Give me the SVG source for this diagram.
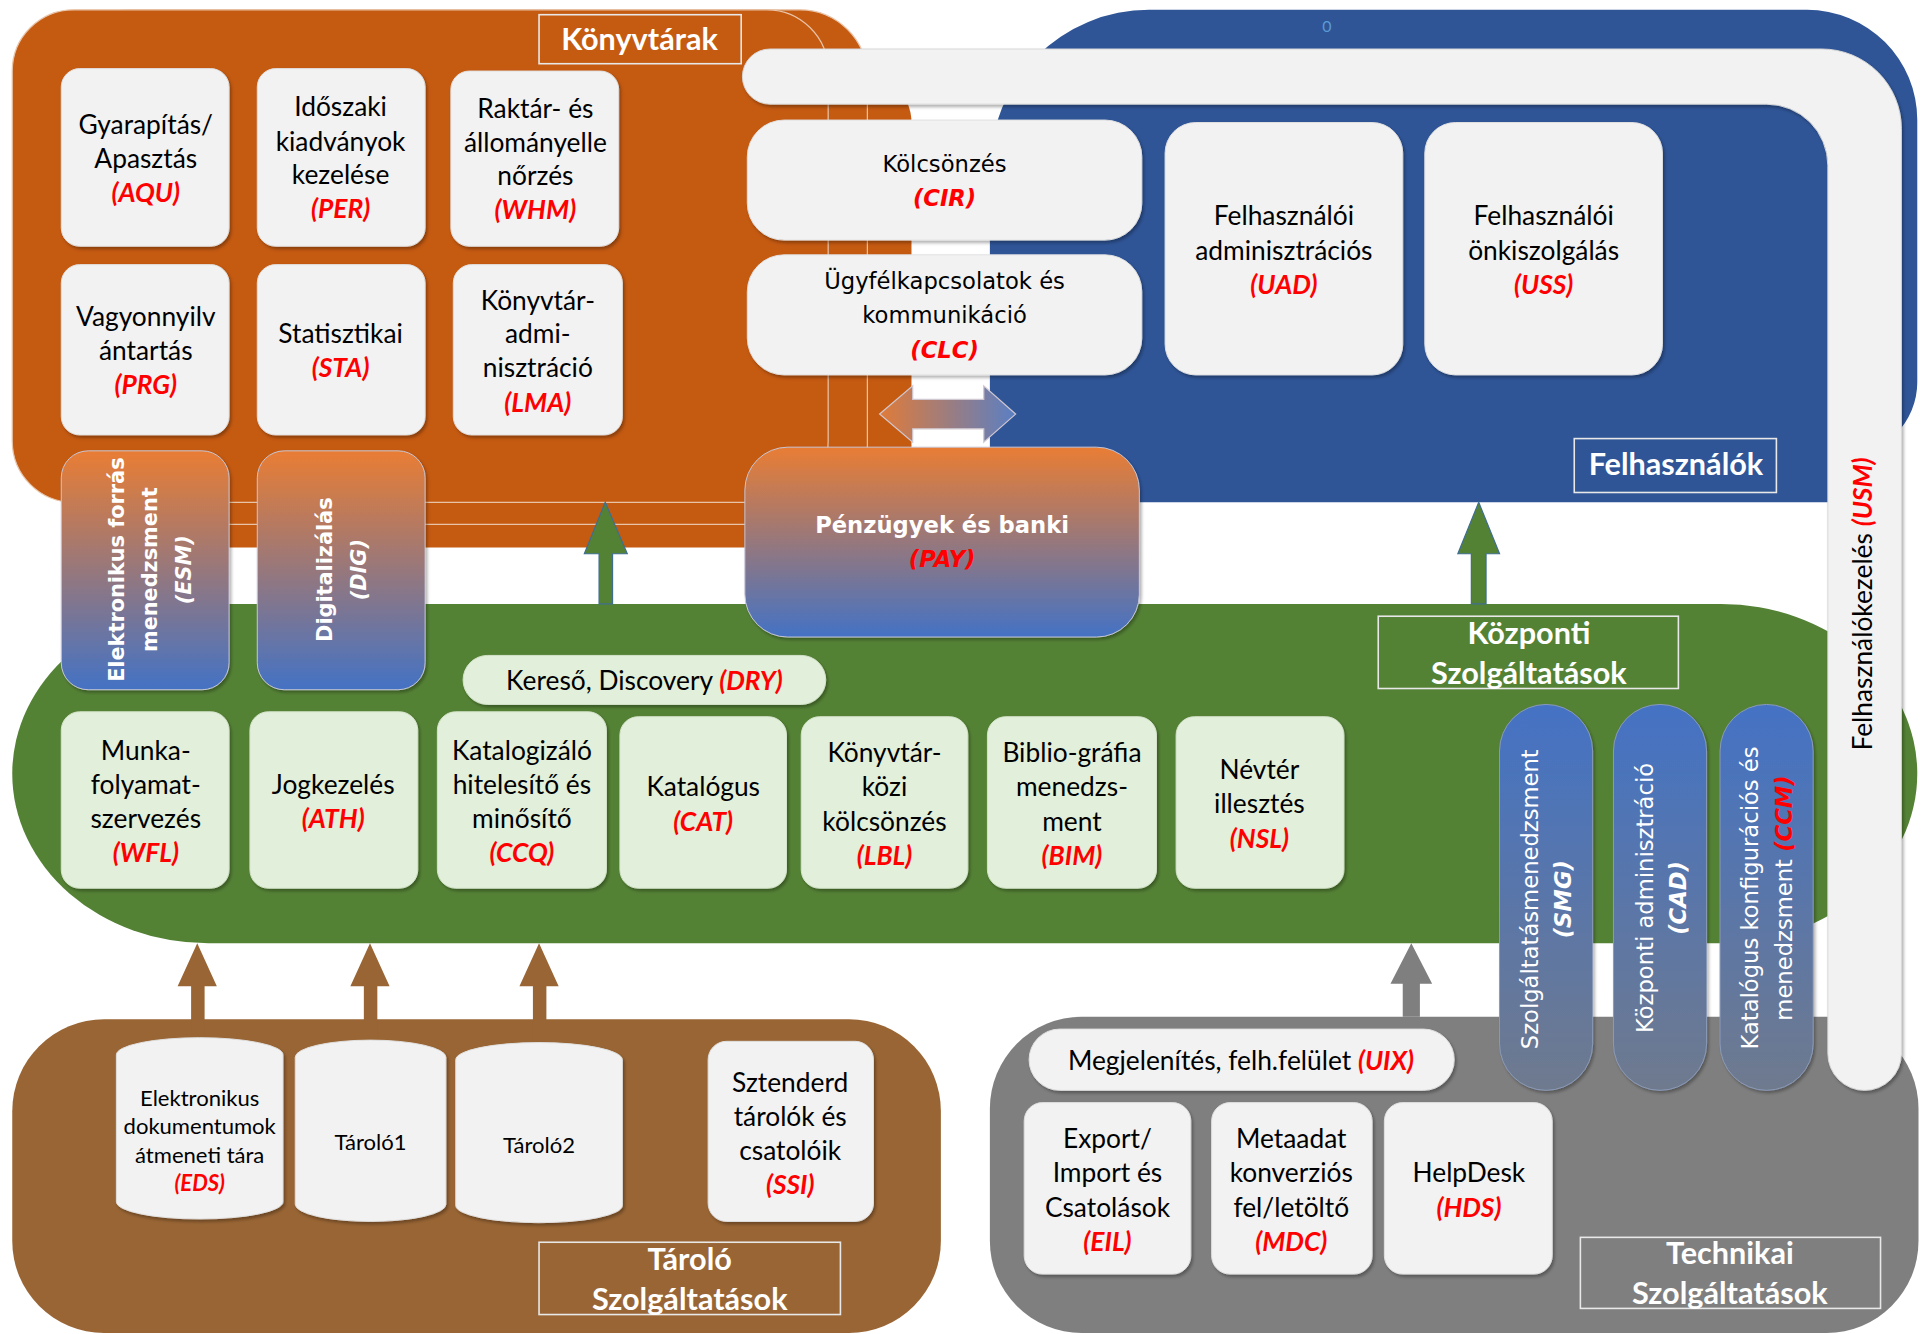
<svg xmlns="http://www.w3.org/2000/svg" width="1921" height="1334" viewBox="0 0 1921 1334">
<defs>
<linearGradient id="gOB" x1="0" y1="0" x2="0" y2="1"><stop offset="0" stop-color="#E97D34"/><stop offset="1" stop-color="#4472C4"/></linearGradient>
<linearGradient id="gBG" x1="0" y1="0" x2="0" y2="1"><stop offset="0" stop-color="#4472C4"/><stop offset="1" stop-color="#6F7A8E"/></linearGradient>
<linearGradient id="gArr" x1="0" y1="0" x2="1" y2="0"><stop offset="0" stop-color="#E07B39"/><stop offset="1" stop-color="#5A7FC4"/></linearGradient>
<filter id="sh" x="-10%" y="-10%" width="130%" height="130%"><feDropShadow dx="1.5" dy="2" stdDeviation="1.5" flood-color="#000" flood-opacity="0.3"/></filter>
</defs>
<style>
.lb{fill:#F2F2F2;stroke:#e0e0e0;stroke-width:0.8;filter:url(#sh)}
.gb{fill:#E2EFDA;stroke:#d5e3cc;stroke-width:0.8;filter:url(#sh)}
.t{font-family:Lato,"Liberation Sans",sans-serif;font-size:21.5px;fill:#000;text-anchor:middle}
.s{font-size:18px}
.d{font-family:"DejaVu Sans","Liberation Sans",sans-serif;font-size:18.5px;fill:#000;text-anchor:middle}
.r{fill:#FF0000;font-weight:bold;font-style:italic}
.w{fill:#fff;font-weight:bold}
.L{font-family:Lato,"Liberation Sans",sans-serif;font-size:25px;font-weight:bold;fill:#fff;text-anchor:middle}
.lf{fill:none;stroke:#e8e8e8;stroke-width:1.3}
.vw{font-family:"DejaVu Sans","Liberation Sans",sans-serif;font-size:18.5px;fill:#fff;text-anchor:middle}
.vb{font-family:"DejaVu Sans","Liberation Sans",sans-serif;font-size:17px;font-weight:bold;fill:#fff;text-anchor:middle}
.pill{fill:url(#gBG);stroke:#8a9bb8;stroke-width:0.8;filter:url(#sh)}
.ob{fill:url(#gOB);stroke:#c8c8d8;stroke-width:0.8;filter:url(#sh)}
</style>
<rect width="1921" height="1334" fill="#fff"/>
<g transform="scale(1.2251)">

<g id="region-tarolo">
<rect x="10" y="832" width="758" height="256" rx="75" fill="#996534"/>
</g>
<g id="region-technikai">
<rect x="808" y="830" width="758" height="258" rx="75" fill="#7F7F7F"/>
</g>
<g id="region-kozponti">
<path d="M170,493 L1405,493 A160,138.5 0 0 1 1405,770 L170,770 A160,138.5 0 0 1 170,493 Z" fill="#548235"/>
</g>
<g id="region-konyvtarak">
<rect x="50" y="60" width="694" height="387" rx="40" fill="#C55A11"/>
<rect x="50" y="8" width="658" height="420" rx="55" fill="#C55A11" stroke="#E8C4A8" stroke-width="1"/>
<rect x="10" y="8" width="666" height="402" rx="50" fill="#C55A11" stroke="#E8C4A8" stroke-width="1"/>
</g>
<g id="region-felhasznalok">
<path d="M808,410 L808,138 A130,130 0 0 1 938,8 L1475,8 A90,90 0 0 1 1565,98 L1565,312 A60,60 0 0 1 1505,372 L1495,372 L1495,410 Z" fill="#2F5597"/>
<text x="1083" y="26" font-family="Lato, 'Liberation Sans', sans-serif" font-size="13" fill="#5B9BD5" text-anchor="middle">0</text>
</g>

<g id="USM">
<path d="M628.5,40 L1487,40 A65,65 0 0 1 1552,105 L1552,860 A30,30 0 0 1 1492,860 L1492,135 A50,50 0 0 0 1442,85 L628.5,85 A22.5,22.5 0 0 1 628.5,40 Z" fill="#F2F2F2" stroke="#d8d8d8" stroke-width="0.8" filter="url(#sh)"/>
<text class="t" font-size="20.5" transform="translate(1528,493) rotate(-90)">Felhasználókezelés <tspan class="r">(USM)</tspan></text>
</g>

<g id="connectors">
<path d="M494,410 L512,452 L500,452 L500,493 L489,493 L489,452 L477,452 Z" fill="#548235" stroke="#3F6E8F" stroke-width="1"/>
<path d="M1207,410 L1224,452 L1213,452 L1213,493 L1201,493 L1201,452 L1190,452 Z" fill="#548235" stroke="#3F6E8F" stroke-width="1"/>
<path d="M1152,770 L1169,803 L1159,803 L1159,830 L1145,830 L1145,803 L1135,803 Z" fill="#7F7F7F"/>
<path d="M718,338 L745,315 L745,326 L803,326 L803,315 L829,338 L803,361 L803,350 L745,350 L745,361 Z" fill="url(#gArr)" stroke="#d0c8d0" stroke-width="1"/>
<path d="M161,770 L177,805 L167,805 L167,862 L156,862 L156,805 L145,805 Z" fill="#996534"/>
<path d="M302,770 L318,805 L308,805 L308,862 L297,862 L297,805 L286,805 Z" fill="#996534"/>
<path d="M440,770 L456,805 L446,805 L446,862 L435,862 L435,805 L424,805 Z" fill="#996534"/>
</g>

<g id="Konyvtarak-label">
<rect class="lf" x="440" y="12" width="165" height="40"/>
<text class="L" x="522" y="41">Könyvtárak</text>
</g>
<g id="AQU"><rect class="lb" x="50" y="56" width="137" height="145" rx="15"/>
<text class="t"><tspan x="119" y="109">Gyarapítás/</tspan><tspan x="119" y="137">Apasztás</tspan><tspan x="119" y="165" class="r">(AQU)</tspan></text></g>
<g id="PER"><rect class="lb" x="210" y="56" width="137" height="145" rx="15"/>
<text class="t"><tspan x="278" y="95">Időszaki</tspan><tspan x="278" y="123">kiadványok</tspan><tspan x="278" y="150">kezelése</tspan><tspan x="278" y="178" class="r">(PER)</tspan></text></g>
<g id="WHM"><rect class="lb" x="368" y="58" width="137" height="143" rx="15"/>
<text class="t"><tspan x="437" y="96">Raktár- és</tspan><tspan x="437" y="124">állományelle</tspan><tspan x="437" y="151">nőrzés</tspan><tspan x="437" y="179" class="r">(WHM)</tspan></text></g>
<g id="PRG"><rect class="lb" x="50" y="216" width="137" height="139" rx="15"/>
<text class="t"><tspan x="119" y="266">Vagyonnyilv</tspan><tspan x="119" y="294">ántartás</tspan><tspan x="119" y="322" class="r">(PRG)</tspan></text></g>
<g id="STA"><rect class="lb" x="210" y="216" width="137" height="139" rx="15"/>
<text class="t"><tspan x="278" y="280">Statisztikai</tspan><tspan x="278" y="308" class="r">(STA)</tspan></text></g>
<g id="LMA"><rect class="lb" x="370" y="216" width="138" height="139" rx="15"/>
<text class="t"><tspan x="439" y="253">Könyvtár-</tspan><tspan x="439" y="280">admi-</tspan><tspan x="439" y="308">nisztráció</tspan><tspan x="439" y="336" class="r">(LMA)</tspan></text></g>

<g id="ESM"><rect class="ob" x="50" y="368" width="137" height="195" rx="22"/>
<text class="vb" transform="translate(101,465) rotate(-90)">Elektronikus forrás</text>
<text class="vb" transform="translate(128,465) rotate(-90)">menedzsment</text>
<text class="vb r" transform="translate(156,465) rotate(-90)">(ESM)</text></g>
<g id="DIG"><rect class="ob" x="210" y="368" width="137" height="195" rx="22"/>
<text class="vb" transform="translate(271,465) rotate(-90)">Digitalizálás</text>
<text class="vb r" transform="translate(299,465) rotate(-90)">(DIG)</text></g>

<g id="CIR"><rect class="lb" x="610" y="98" width="322" height="98" rx="30"/>
<text class="d"><tspan x="771" y="140">Kölcsönzés</tspan><tspan x="771" y="168" class="r">(CIR)</tspan></text></g>
<g id="CLC"><rect class="lb" x="610" y="208" width="322" height="98" rx="30"/>
<text class="d"><tspan x="771" y="236">Ügyfélkapcsolatok és</tspan><tspan x="771" y="264">kommunikáció</tspan><tspan x="771" y="292" class="r">(CLC)</tspan></text></g>
<g id="UAD"><rect class="lb" x="951" y="100" width="194" height="206" rx="25"/>
<text class="t"><tspan x="1048" y="184">Felhasználói</tspan><tspan x="1048" y="212">adminisztrációs</tspan><tspan x="1048" y="240" class="r">(UAD)</tspan></text></g>
<g id="USS"><rect class="lb" x="1163" y="100" width="194" height="206" rx="25"/>
<text class="t"><tspan x="1260" y="184">Felhasználói</tspan><tspan x="1260" y="212">önkiszolgálás</tspan><tspan x="1260" y="240" class="r">(USS)</tspan></text></g>
<g id="Felhasznalok-label">
<rect class="lf" x="1285" y="358" width="165" height="44"/>
<text class="L" x="1368" y="388">Felhasználók</text>
</g>

<g id="PAY"><rect class="ob" x="608" y="365" width="322" height="155" rx="35"/>
<text class="d w" font-size="15.5"><tspan x="769" y="435">Pénzügyek és banki</tspan><tspan x="769" y="463" class="r">(PAY)</tspan></text></g>

<g id="Kozponti-label">
<rect class="lf" x="1125" y="503" width="245" height="59"/>
<text class="L"><tspan x="1248" y="526">Központi</tspan><tspan x="1248" y="558">Szolgáltatások</tspan></text>
</g>
<g id="DRY"><rect class="gb" x="378" y="535" width="296" height="40" rx="20"/>
<text class="t" x="526" y="563">Kereső, Discovery <tspan class="r">(DRY)</tspan></text></g>
<g id="WFL"><rect class="gb" x="50" y="581" width="137" height="144" rx="15"/>
<text class="t"><tspan x="119" y="620">Munka-</tspan><tspan x="119" y="648">folyamat-</tspan><tspan x="119" y="676">szervezés</tspan><tspan x="119" y="704" class="r">(WFL)</tspan></text></g>
<g id="ATH"><rect class="gb" x="204" y="581" width="137" height="144" rx="15"/>
<text class="t"><tspan x="272" y="648">Jogkezelés</tspan><tspan x="272" y="676" class="r">(ATH)</tspan></text></g>
<g id="CCQ"><rect class="gb" x="357" y="581" width="138" height="144" rx="15"/>
<text class="t"><tspan x="426" y="620">Katalogizáló</tspan><tspan x="426" y="648">hitelesítő és</tspan><tspan x="426" y="676">minősítő</tspan><tspan x="426" y="704" class="r">(CCQ)</tspan></text></g>
<g id="CAT"><rect class="gb" x="506" y="585" width="136" height="140" rx="15"/>
<text class="t"><tspan x="574" y="650">Katalógus</tspan><tspan x="574" y="678" class="r">(CAT)</tspan></text></g>
<g id="LBL"><rect class="gb" x="654" y="585" width="136" height="140" rx="15"/>
<text class="t"><tspan x="722" y="622">Könyvtár-</tspan><tspan x="722" y="650">közi</tspan><tspan x="722" y="678">kölcsönzés</tspan><tspan x="722" y="706" class="r">(LBL)</tspan></text></g>
<g id="BIM"><rect class="gb" x="806" y="585" width="138" height="140" rx="15"/>
<text class="t"><tspan x="875" y="622">Biblio-gráfia</tspan><tspan x="875" y="650">menedzs-</tspan><tspan x="875" y="678">ment</tspan><tspan x="875" y="706" class="r">(BIM)</tspan></text></g>
<g id="NSL"><rect class="gb" x="960" y="585" width="137" height="140" rx="15"/>
<text class="t"><tspan x="1028" y="636">Névtér</tspan><tspan x="1028" y="664">illesztés</tspan><tspan x="1028" y="692" class="r">(NSL)</tspan></text></g>

<g id="SMG"><rect class="pill" x="1224" y="575" width="76" height="315" rx="38"/>
<text class="vw" transform="translate(1255,734) rotate(-90)">Szolgáltatásmenedzsment</text>
<text class="vw r" transform="translate(1282,734) rotate(-90)">(SMG)</text></g>
<g id="CAD"><rect class="pill" x="1317" y="575" width="76" height="315" rx="38"/>
<text class="vw" transform="translate(1349,733) rotate(-90)">Központi adminisztráció</text>
<text class="vw r" transform="translate(1376,733) rotate(-90)">(CAD)</text></g>
<g id="CCM"><rect class="pill" x="1404" y="575" width="76" height="315" rx="38"/>
<text class="vw" transform="translate(1435,733) rotate(-90)">Katalógus konfigurációs és</text>
<text class="vw" transform="translate(1463,733) rotate(-90)">menedzsment <tspan class="r">(CCM)</tspan></text></g>

<g id="EDS">
<path d="M95,861 A68,14 0 0 1 231,861 L231,981 A68,14 0 0 1 95,981 Z" class="lb"/>
<text class="t s"><tspan x="163" y="903">Elektronikus</tspan><tspan x="163" y="926">dokumentumok</tspan><tspan x="163" y="949">átmeneti tára</tspan><tspan x="163" y="972" class="r">(EDS)</tspan></text></g>
<g id="Tarolo1">
<path d="M241,863 A61.5,14 0 0 1 364,863 L364,983 A61.5,14 0 0 1 241,983 Z" class="lb"/>
<text class="t s" x="302.5" y="939">Tároló1</text></g>
<g id="Tarolo2">
<path d="M372,865 A68,14 0 0 1 508,865 L508,984 A68,14 0 0 1 372,984 Z" class="lb"/>
<text class="t s" x="440" y="941">Tároló2</text></g>
<g id="SSI"><rect class="lb" x="578" y="850" width="135" height="147" rx="15"/>
<text class="t"><tspan x="645" y="891">Sztenderd</tspan><tspan x="645" y="919">tárolók és</tspan><tspan x="645" y="947">csatolóik</tspan><tspan x="645" y="975" class="r">(SSI)</tspan></text></g>
<g id="Tarolo-label">
<rect class="lf" x="440" y="1014" width="246" height="59"/>
<text class="L"><tspan x="563" y="1037">Tároló</tspan><tspan x="563" y="1069">Szolgáltatások</tspan></text>
</g>

<g id="UIX"><rect class="lb" x="840" y="840" width="347" height="50" rx="25"/>
<text class="t" x="1013" y="873">Megjelenítés, felh.felület <tspan class="r">(UIX)</tspan></text></g>
<g id="EIL"><rect class="lb" x="836" y="900" width="136" height="140" rx="15"/>
<text class="t"><tspan x="904" y="937">Export/</tspan><tspan x="904" y="965">Import és</tspan><tspan x="904" y="993">Csatolások</tspan><tspan x="904" y="1021" class="r">(EIL)</tspan></text></g>
<g id="MDC"><rect class="lb" x="989" y="900" width="131" height="140" rx="15"/>
<text class="t"><tspan x="1054" y="937">Metaadat</tspan><tspan x="1054" y="965">konverziós</tspan><tspan x="1054" y="993">fel/letöltő</tspan><tspan x="1054" y="1021" class="r">(MDC)</tspan></text></g>
<g id="HDS"><rect class="lb" x="1130" y="900" width="137" height="140" rx="15"/>
<text class="t"><tspan x="1199" y="965">HelpDesk</tspan><tspan x="1199" y="993" class="r">(HDS)</tspan></text></g>
<g id="Technikai-label">
<rect class="lf" x="1290" y="1010" width="245" height="58"/>
<text class="L"><tspan x="1412" y="1032">Technikai</tspan><tspan x="1412" y="1064">Szolgáltatások</tspan></text>
</g>

</g>
</svg>
